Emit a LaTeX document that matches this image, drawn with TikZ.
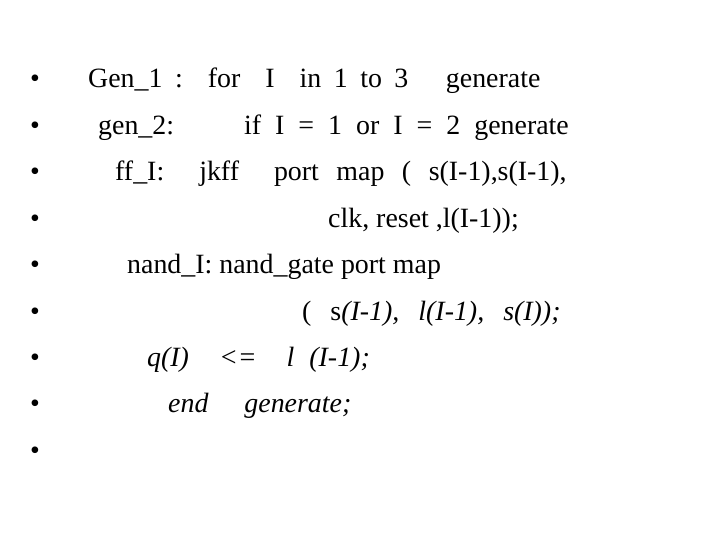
\documentclass[tikz,border=0pt]{standalone}
\usepackage{fontspec}
\setmainfont{Liberation Serif}
\begin{document}
\begin{tikzpicture}[x=1bp,y=-1bp,
  txt/.style={anchor=base west,inner sep=0pt,font=\fontsize{28}{30}\selectfont},
  bul/.style={anchor=base west,inner sep=0pt,font=\fontsize{28}{30}\selectfont}]
\useasboundingbox[fill=white] (0,0) rectangle (720,540);
\foreach \k in {0,...,8} {\node[bul] (b\k) at (30,{88+46.4*\k}) {•};}
\node[txt] (l1) at (88,88) {\spaceskip=12.5bp Gen\_1 :\ \ for\ \ I\ \ in 1 to 3\ \ \ generate};
\node[txt] (l2) at (98,134.4) {\spaceskip=14bp gen\_2:\ \ \ \ \ if I = 1 or I = 2 generate};
\node[txt] (l3) at (115,180.8) {\spaceskip=17.5bp ff\_I:\ \ jkff\ \ port map ( s(I-1),s(I-1),};
\node[txt] (l4) at (328,227.2) {clk, reset ,l(I-1));};
\node[txt] (l5) at (127,273.6) {nand\_I: nand\_gate port map};
\node[txt] (l6) at (302,320) {\spaceskip=19bp ( s\textit{(I-1), l(I-1), s(I));}};
\node[txt] (l7) at (147,366.4) {\spaceskip=15bp\textit{q(I)\ \ <=\ \ l (I-1);}};
\node[txt] (l8) at (168,412.8) {\spaceskip=18bp\textit{end\ \ generate;}};
\end{tikzpicture}
\end{document}
